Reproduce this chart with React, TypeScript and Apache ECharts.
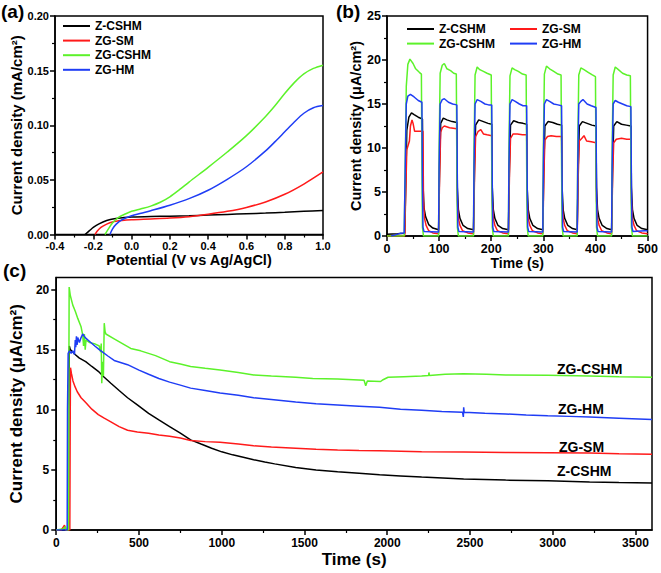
import React, { useEffect, useRef } from "react";
import * as echarts from "echarts";

const FONT = "'Liberation Sans', Arial, Helvetica, sans-serif";
const NAMES = ["Z-CSHM", "ZG-SM", "ZG-CSHM", "ZG-HM"];
const COLORS = ["#000000", "#ff1a1a", "#5cf22a", "#1f3df5"];

// Panel (a): LSV curves, [potential V, current density mA/cm2]
const lsvZCSHM = [[-0.243,0],[-0.22,0.0035],[-0.2,0.0065],[-0.17,0.0098],[-0.13,0.0128],[-0.09,0.0145],[-0.04,0.0155],[0,0.016],[0.1,0.0165],[0.2,0.0168],[0.3,0.0172],[0.4,0.0178],[0.5,0.0184],[0.6,0.019],[0.7,0.0196],[0.8,0.0203],[0.9,0.0212],[1.0,0.022]];
const lsvZGSM = [[-0.191,0],[-0.18,0.003],[-0.16,0.0065],[-0.13,0.0095],[-0.1,0.0115],[-0.05,0.0128],[0,0.0135],[0.1,0.0142],[0.2,0.015],[0.3,0.0163],[0.4,0.0185],[0.5,0.0212],[0.6,0.0248],[0.7,0.0298],[0.8,0.0368],[0.9,0.0462],[1.0,0.0573]];
const lsvZGCSHM = [[-0.139,0],[-0.125,0.004],[-0.1,0.0105],[-0.07,0.0155],[-0.03,0.019],[0,0.0212],[0.05,0.0235],[0.1,0.026],[0.15,0.0295],[0.2,0.0345],[0.25,0.041],[0.3,0.048],[0.4,0.0615],[0.5,0.0755],[0.6,0.0905],[0.7,0.108],[0.75,0.118],[0.8,0.129],[0.85,0.139],[0.9,0.147],[0.95,0.152],[1.0,0.155]];
const lsvZGHM = [[-0.113,0],[-0.1,0.005],[-0.08,0.0095],[-0.05,0.0135],[0,0.0172],[0.05,0.0195],[0.1,0.0218],[0.2,0.0268],[0.3,0.0328],[0.4,0.0405],[0.5,0.0505],[0.6,0.062],[0.7,0.0765],[0.75,0.085],[0.8,0.094],[0.85,0.103],[0.9,0.111],[0.95,0.116],[1.0,0.118]];

// Panel (b): chopped light photocurrent, [time s, µA/cm2]
const chopZCSHM = [[0,0.2],[20,0.25],[34,0.3],[36,6],[38,12],[42,13.5],[47,14.0],[52,13.8],[60,13.5],[68,13.3],[69,6],[71,3.2],[74,2.2],[80,1.3],[88,0.9],[99,0.7],
[101,8],[103,12.8],[108,13.4],[115,13.2],[125,13.0],[134,12.9],[135,5.5],[137,3],[140,2],[146,1.2],[155,0.85],[166,0.7],
[168,8],[170,12.6],[176,13.2],[185,13.0],[194,12.8],[201,12.7],[202,5.5],[204,3],[207,2],[213,1.2],[222,0.85],[233,0.7],
[235,8],[237,12.6],[243,13.1],[252,12.9],[261,12.8],[268,12.7],[269,5.5],[271,3],[274,2],[280,1.2],[289,0.85],[299,0.7],
[301,8],[303,12.5],[309,13.0],[318,12.9],[327,12.7],[335,12.6],[336,5.5],[338,3],[341,2],[347,1.2],[356,0.85],[365,0.7],
[367,8],[369,12.5],[375,13.0],[384,12.8],[393,12.6],[401,12.5],[402,5.5],[404,3],[407,2],[413,1.2],[422,0.85],[431,0.7],
[433,8],[435,12.5],[441,13.0],[450,12.7],[459,12.6],[468,12.5],[469,5.5],[471,3],[474,2],[480,1.2],[489,0.85],[500,0.7]];
const chopZGSM = [[0,0],[34,0],[36,5],[38,9.8],[40,10.2],[43,10.8],[45,12.5],[48,13.2],[50,12.8],[53,11.9],[60,11.9],[69,11.9],[70,4],[72,2],[75,1.2],[80,0.6],[88,0.35],[99,0.25],
[101,7],[103,11.8],[106,12.3],[110,12.5],[120,12.3],[134,12.2],[135,4],[137,2],[140,1.2],[145,0.6],[155,0.35],[166,0.25],
[168,7],[170,11.3],[175,11.9],[180,12.1],[185,11.6],[192,11.5],[201,11.4],[202,4],[204,2],[207,1.2],[212,0.6],[222,0.35],[233,0.25],
[235,7],[237,11.1],[242,11.6],[250,11.6],[260,11.5],[268,11.5],[269,4],[271,2],[274,1.2],[279,0.6],[289,0.35],[299,0.25],
[301,7],[303,10.9],[308,11.3],[315,11.4],[325,11.3],[335,11.3],[336,4],[338,2],[341,1.2],[346,0.6],[356,0.35],[365,0.25],
[367,7],[369,10.8],[374,11.1],[378,11.4],[383,10.8],[392,10.7],[401,10.6],[402,4],[404,2],[407,1.2],[412,0.6],[422,0.35],[431,0.25],
[433,7],[435,10.6],[440,11.0],[450,11.1],[460,11.0],[468,11.0],[469,4],[471,2],[474,1.2],[479,0.6],[489,0.35],[500,0.25]];
const chopZGCSHM = [[0,0],[33,0],[35,8],[37,17],[40,19.5],[44,20.1],[50,19.6],[55,19.0],[62,18.6],[66,18.4],[67,8],[68,1],[70,0],[99,0],
[100,10],[102,18.5],[106,19.4],[110,19.6],[115,19.0],[122,18.8],[128,18.5],[133,18.4],[134,8],[135,1],[137,0],[166,0],
[167,10],[169,18.3],[173,19.2],[178,18.9],[185,18.7],[192,18.5],[200,18.3],[201,8],[202,1],[204,0],[233,0],
[234,10],[236,18.2],[240,19.1],[245,18.9],[252,18.7],[260,18.4],[267,18.3],[268,8],[269,1],[271,0],[299,0],
[300,10],[302,18.4],[306,19.3],[312,19.0],[320,18.7],[328,18.4],[334,18.3],[335,8],[336,1],[338,0],[365,0],
[366,10],[368,18.3],[372,19.1],[378,18.9],[386,18.6],[394,18.3],[400,18.1],[401,8],[402,1],[404,0],[431,0],
[432,10],[434,18.3],[438,19.2],[444,18.9],[452,18.5],[460,18.3],[467,18.2],[468,8],[469,1],[471,0],[500,0]];
const chopZGHM = [[8,0],[15,0.1],[25,0.3],[33,0.35],[35,8],[37,15],[40,15.9],[45,16.1],[52,15.8],[60,15.4],[67,15.2],[68,6],[69,1],[71,0.5],[99,0.45],
[100,8],[102,15],[106,15.5],[110,15.6],[118,15.2],[126,15.0],[134,14.9],[135,6],[136,1],[138,0.5],[166,0.45],
[167,8],[169,15],[173,15.5],[180,15.3],[188,15.0],[195,14.9],[201,14.9],[202,6],[203,1],[205,0.5],[233,0.45],
[234,8],[236,15],[240,15.5],[246,15.3],[254,15.0],[261,14.8],[268,14.8],[269,6],[270,1],[272,0.5],[299,0.45],
[300,8],[302,15],[306,15.5],[312,15.3],[320,15.0],[328,14.9],[335,14.8],[336,6],[337,1],[339,0.5],[365,0.45],
[366,8],[368,15],[372,15.3],[376,15.5],[384,15.0],[392,14.8],[401,14.6],[402,6],[403,1],[405,0.5],[431,0.45],
[432,8],[434,15],[438,15.4],[444,15.2],[452,15.0],[460,14.8],[468,14.7],[469,6],[470,1],[472,0.5],[495,0.6],[500,0.6]];

// Panel (c): long-term photocurrent, [time s, µA/cm2]
const ltZCSHM = [[0,0],[74,0],[76,10],[79,15.3],[85,15.0],[100,14.8],[114,14.6],[140,14.3],[178,14.0],[215,13.6],[254,13.2],[290,12.7],[330,12.2],[380,11.6],[431,11.0],[490,10.4],[558,9.7],[620,9.15],[685,8.6],[750,8.05],[812,7.5],[875,7.15],[939,6.8],[1000,6.5],[1066,6.25],[1130,6.05],[1193,5.85],[1260,5.65],[1320,5.5],[1447,5.2],[1570,5.0],[1700,4.85],[1830,4.72],[1954,4.6],[2080,4.5],[2208,4.4],[2462,4.25],[2716,4.15],[2970,4.1],[3223,4.0],[3400,3.95],[3600,3.9]];
const ltZGSM = [[0,0],[30,0],[40,0.2],[50,0.4],[55,0],[82,0],[84,8],[86,13.5],[92,13.0],[101,12.4],[114,11.9],[127,11.5],[150,11.0],[178,10.6],[215,10.05],[254,9.6],[290,9.3],[330,9.0],[380,8.6],[431,8.3],[490,8.15],[558,8.05],[620,7.9],[685,7.8],[750,7.65],[812,7.45],[900,7.35],[990,7.3],[1100,7.15],[1193,7.0],[1300,6.9],[1447,6.8],[1570,6.72],[1700,6.65],[1830,6.62],[1954,6.6],[2208,6.5],[2462,6.48],[2716,6.45],[2970,6.42],[3223,6.4],[3400,6.35],[3600,6.3]];
const ltZGCSHM = [[0,0],[45,0.1],[55,0.3],[60,0],[74,0],[76,12],[78,20.2],[85,19.5],[100,18.7],[115,18.2],[130,17.6],[150,16.9],[160,16.2],[165,15.3],[170,16.3],[175,15.0],[180,15.8],[200,15.6],[230,15.5],[260,15.3],[268,14.8],[272,15.5],[275,12.2],[280,14.0],[285,12.8],[290,17.2],[295,16.5],[300,16.3],[350,15.9],[450,15.1],[510,14.9],[600,14.5],[685,14.0],[750,13.8],[812,13.6],[900,13.45],[990,13.3],[1100,13.1],[1193,12.9],[1300,12.8],[1447,12.7],[1550,12.6],[1700,12.55],[1860,12.45],[1870,12.0],[1880,12.4],[1960,12.35],[1975,12.5],[2005,12.7],[2100,12.75],[2208,12.8],[2250,12.85],[2252,13.1],[2255,12.85],[2350,12.95],[2462,13.0],[2600,12.95],[2716,12.9],[2970,12.88],[3223,12.8],[3400,12.75],[3600,12.7]];
const ltZGHM = [[0,0],[66,0],[68,10],[72,14.7],[80,14.9],[90,14.7],[100,14.9],[110,14.6],[115,15.8],[118,15.2],[122,16.1],[126,15.4],[130,16.0],[140,15.6],[150,16.0],[160,16.3],[175,16.0],[200,15.7],[233,15.3],[260,15.0],[314,14.45],[350,14.1],[431,13.75],[500,13.3],[558,12.95],[620,12.6],[685,12.3],[750,12.05],[812,11.8],[900,11.6],[990,11.4],[1100,11.2],[1193,11.0],[1300,10.85],[1447,10.65],[1570,10.5],[1700,10.4],[1830,10.3],[1954,10.2],[2080,10.05],[2208,9.95],[2330,9.85],[2455,9.8],[2460,9.4],[2462,10.2],[2465,9.8],[2590,9.72],[2716,9.65],[2840,9.57],[2970,9.5],[3100,9.45],[3223,9.4],[3400,9.3],[3600,9.2]];

// Tick values of panel (c); both frames end past the last labelled tick
const longTimeTicks = [0, 500, 1000, 1500, 2000, 2500, 3000, 3500];
const longTimeMinor = [250, 750, 1250, 1750, 2250, 2750, 3250];
const longCurrentTicks = [0, 5, 10, 15, 20];
const longCurrentMinor = [2.5, 7.5, 12.5, 17.5];

const LSV = [lsvZCSHM, lsvZGSM, lsvZGCSHM, lsvZGHM];
const CHOP = [chopZCSHM, chopZGSM, chopZGCSHM, chopZGHM];
const LONG = [ltZCSHM, ltZGSM, ltZGCSHM, ltZGHM];

function axis(o: any) {
  const a: any = {
    type: "value",
    gridIndex: o.grid,
    min: o.min,
    max: o.max,
    interval: o.interval,
    name: o.name,
    nameLocation: "middle",
    nameGap: o.nameGap,
    nameTextStyle: { fontFamily: FONT, fontWeight: "bold", fontSize: o.nfs, color: "#000" },
    axisLine: { show: true, onZero: false, lineStyle: { color: "#000", width: 1.5 } },
    axisTick: { show: true, inside: false, length: 5, lineStyle: { color: "#000", width: 1.5 } },
    minorTick: { show: true, splitNumber: 2, length: 3, lineStyle: { color: "#000", width: 1.2 } },
    splitLine: { show: false },
    axisLabel: {
      fontFamily: FONT, fontWeight: "bold", fontSize: o.fs, color: "#000", margin: o.margin,
      formatter: o.fmt || ((v: number) => String(v)),
    },
  };
  if (o.custom) {
    a.axisLabel.customValues = o.custom;
    a.axisTick.customValues = o.custom;
    a.minorTick.show = false;
  }
  return a;
}

// minor ticks for panel (c) drawn as a second, label-less axis on the same grid
function minorAxis(o: any) {
  return {
    type: "value",
    gridIndex: o.grid,
    min: o.min,
    max: o.max,
    position: o.position,
    axisLine: { show: false },
    axisTick: { show: true, inside: false, length: 3, customValues: o.custom, lineStyle: { color: "#000", width: 1.2 } },
    axisLabel: { show: false },
    splitLine: { show: false },
  };
}

function lines(sets: number[][][], xi: number, smooth: any) {
  return sets.map((d, i) => ({
    type: "line",
    name: NAMES[i],
    xAxisIndex: xi,
    yAxisIndex: xi,
    data: d,
    showSymbol: false,
    smooth,
    lineStyle: { color: COLORS[i], width: 1.5 },
    itemStyle: { color: COLORS[i] },
    z: 2 + i,
  }));
}

const legendBase = {
  orient: "vertical",
  icon: "rect",
  itemWidth: 27,
  itemHeight: 2,
  padding: 0,
  itemGap: 2.6,
  textStyle: { fontFamily: FONT, fontWeight: "bold", fontSize: 12, lineHeight: 12, color: "#000" },
};

const option: any = {
  animation: false,
  backgroundColor: "#fff",
  grid: [
    { left: 55, top: 16, width: 268, height: 218.5, show: true, borderColor: "#000", borderWidth: 1.5, backgroundColor: "transparent" },
    { left: 387, top: 16, width: 262, height: 220, show: true, borderColor: "#000", borderWidth: 1.5, backgroundColor: "transparent" },
    { left: 55, top: 277.5, width: 597, height: 252.5, show: true, borderColor: "#000", borderWidth: 1.5, backgroundColor: "transparent" },
  ],
  xAxis: [
    axis({ grid: 0, min: -0.4, max: 1.0, interval: 0.2, name: "Potential (V vs Ag/AgCl)", nameGap: 17, nfs: 14.5, fs: 11, margin: 6, fmt: (v: number) => v.toFixed(1) }),
    axis({ grid: 1, min: 0, max: 500, interval: 100, name: "Time (s)", nameGap: 19, nfs: 14, fs: 12.5, margin: 6 }),
    axis({ grid: 2, min: 0, max: 3600, interval: 500, name: "Time (s)", nameGap: 21, nfs: 17, fs: 12, margin: 7, custom: longTimeTicks }),
    minorAxis({ grid: 2, min: 0, max: 3600, position: "bottom", custom: longTimeMinor }),
  ],
  yAxis: [
    axis({ grid: 0, min: 0, max: 0.2, interval: 0.05, name: "Current density (mA/cm²)", nameGap: 31, nfs: 15, fs: 11, margin: 6, fmt: (v: number) => v.toFixed(2) }),
    axis({ grid: 1, min: 0, max: 25, interval: 5, name: "Current density (μA/cm²)", nameGap: 22, nfs: 14.5, fs: 12.5, margin: 6 }),
    axis({ grid: 2, min: 0, max: 21, interval: 5, name: "Current density (μA/cm²)", nameGap: 30, nfs: 17, fs: 12, margin: 7, custom: longCurrentTicks }),
    minorAxis({ grid: 2, min: 0, max: 21, position: "left", custom: longCurrentMinor }),
  ],
  legend: [
    { ...legendBase, left: 63, top: 20, data: NAMES },
    { ...legendBase, left: 407, top: 23, data: ["Z-CSHM", "ZG-CSHM"] },
    { ...legendBase, left: 510, top: 23, data: ["ZG-SM", "ZG-HM"] },
  ],
  series: [...lines(LSV, 0, 0.3), ...lines(CHOP, 1, false), ...lines(LONG, 2, false)],
  graphic: [
    { type: "text", left: 1, top: 2, style: { text: "(a)", fontFamily: FONT, fontWeight: "bold", fontSize: 19, fill: "#000" } },
    { type: "text", left: 336, top: 2, style: { text: "(b)", fontFamily: FONT, fontWeight: "bold", fontSize: 19, fill: "#000" } },
    { type: "text", left: 3, top: 261, style: { text: "(c)", fontFamily: FONT, fontWeight: "bold", fontSize: 19, fill: "#000" } },
    { type: "text", left: 557, top: 362, style: { text: "ZG-CSHM", fontFamily: FONT, fontWeight: "bold", fontSize: 14, fill: "#000" } },
    { type: "text", left: 558, top: 402, style: { text: "ZG-HM", fontFamily: FONT, fontWeight: "bold", fontSize: 14, fill: "#000" } },
    { type: "text", left: 559, top: 440, style: { text: "ZG-SM", fontFamily: FONT, fontWeight: "bold", fontSize: 14, fill: "#000" } },
    { type: "text", left: 557, top: 464, style: { text: "Z-CSHM", fontFamily: FONT, fontWeight: "bold", fontSize: 14, fill: "#000" } },
  ],
};

export default function App() {
  const ref = useRef<HTMLDivElement>(null);
  useEffect(() => {
    const chart = echarts.init(ref.current!, null, { renderer: "svg" });
    chart.setOption(option);
    return () => chart.dispose();
  }, []);
  return (
    <div
      ref={ref}
      style={{ position: "fixed", left: 0, top: 0, width: 661, height: 573, background: "#fff" }}
    />
  );
}
